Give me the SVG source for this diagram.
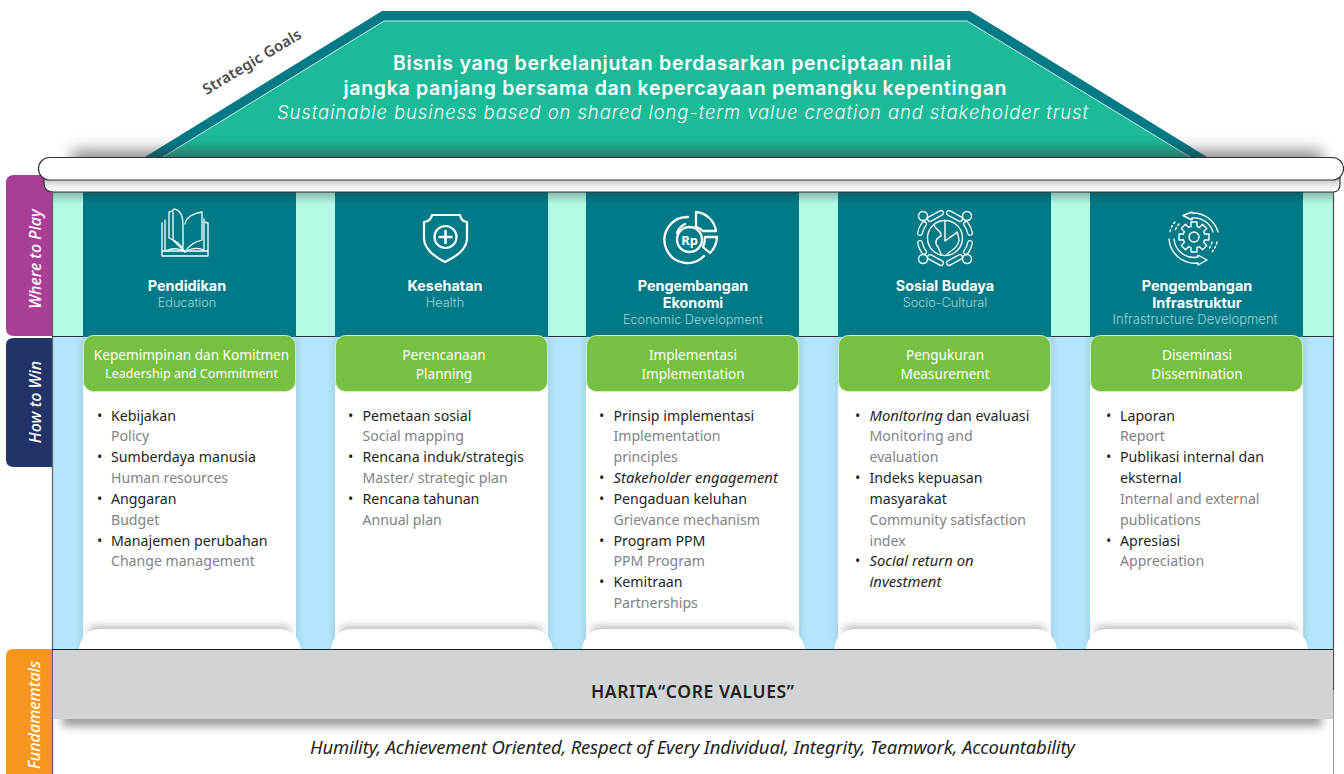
<svg xmlns="http://www.w3.org/2000/svg" xmlns:xlink="http://www.w3.org/1999/xlink" width="1344" height="774" viewBox="0 0 1344 774">
<style>
text{font-family:"Noto Sans","Liberation Sans",sans-serif}
.h{font-family:Inter,"Noto Sans",sans-serif}
.t{font-size:14.2px;fill:#231f20}
.g{font-size:14.1px;fill:#808285}
.it{font-style:italic;font-size:14.8px}
.hd{font-family:Inter,sans-serif;font-weight:700;font-size:14.4px;fill:#fff;text-anchor:middle}
.sub{font-family:Inter,sans-serif;font-weight:300;font-size:12.7px;fill:#a5d3d6;text-anchor:middle}
.gh{font-size:13.6px;fill:#fff;text-anchor:middle}
.tab{font-size:16px;font-style:italic;font-weight:500;fill:#fff;text-anchor:middle}
.ic{fill:none;stroke:#fff;stroke-width:1.5;stroke-linecap:round;stroke-linejoin:round}
.arm{fill:none;stroke:#fff;stroke-width:6;stroke-linecap:round}
.armin{fill:none;stroke:#007a87;stroke-width:3.400;stroke-linecap:round}
.teal{fill:#007a87}
.body{fill:#fff}
.base{fill:#fff}
.green{fill:#77c142;stroke:#d6ecc4;stroke-width:1}
.sh{fill:#2a2a3a;opacity:.4}
.side{fill:#2a2a3a;opacity:.1}
.beam{fill:#fff;stroke:#333;stroke-width:1.2}
</style>
<defs>
<filter id="b8" x="-20%" y="-300%" width="140%" height="700%"><feGaussianBlur stdDeviation="8"/></filter>
<filter id="b5" x="-20%" y="-300%" width="140%" height="700%"><feGaussianBlur stdDeviation="5"/></filter>
<filter id="b3" x="-20%" y="-20%" width="140%" height="140%"><feGaussianBlur stdDeviation="3"/></filter>
<linearGradient id="down" x1="0" y1="0" x2="0" y2="1"><stop offset="0" stop-color="#1a2a3a" stop-opacity=".32"/><stop offset="1" stop-color="#1a2a3a" stop-opacity="0"/></linearGradient>
<linearGradient id="low" x1="0" y1="0" x2="0" y2="1"><stop offset="0" stop-color="#aeaeb4"/><stop offset=".7" stop-color="#f2f2f3"/><stop offset="1" stop-color="#fff"/></linearGradient>
<clipPath id="aboveBeam"><rect x="0" y="0" width="1344" height="158"/></clipPath>
<clipPath id="belowGrey"><rect x="52" y="719" width="1292" height="55"/></clipPath>
<clipPath id="blue"><rect x="52" y="337" width="1281" height="313"/></clipPath>
<path id="tooth" d="M10.6-3L15-3 15 3 10.6 3A11 11 0 0 1 9.6 5.3"/>
</defs>

<rect width="1344" height="774" fill="#fff"/>

<g id="roof">
<path d="M145 157L382 11H970L1207 157Z" fill="#007a87"/>
<path d="M163 157L384 21H967L1190 157" fill="#1cba97" stroke="#e8f7f3" stroke-width=".9"/>
<text class="h" x="672" y="70" font-size="19.500" font-weight="600" fill="#fff" text-anchor="middle" textLength="558" lengthAdjust="spacing">Bisnis yang berkelanjutan berdasarkan penciptaan nilai</text>
<text class="h" x="675" y="95" font-size="19.500" font-weight="600" fill="#fff" text-anchor="middle" textLength="663" lengthAdjust="spacing">jangka panjang bersama dan kepercayaan pemangku kepentingan</text>
<text class="h" x="682.500" y="119" font-size="18.500" font-style="italic" font-weight="300" fill="#f2fbf8" text-anchor="middle" textLength="811" lengthAdjust="spacing">Sustainable business based on shared long-term value creation and stakeholder trust</text>
<text x="252" y="67" font-size="15" font-weight="600" fill="#4a4a4c" text-anchor="middle" textLength="112" transform="rotate(-31 252 62)">Strategic Goals</text>
<g clip-path="url(#aboveBeam)"><rect x="72" y="151" width="1250" height="24" fill="#30303a" opacity=".6" filter="url(#b8)"/></g>
</g>

<g id="frame">
<rect x="52" y="192" width="1281" height="145" fill="#b3fbe6"/>
<rect x="52" y="337" width="1281" height="313" fill="#b3e7fd"/>
</g>

<g id="side-shadows" clip-path="url(#blue)">
<rect class="side" x="80" y="337" width="219" height="313" filter="url(#b3)"/>
<rect class="side" x="332" y="337" width="219" height="313" filter="url(#b3)"/>
<rect class="side" x="583" y="337" width="219" height="313" filter="url(#b3)"/>
<rect class="side" x="835" y="337" width="219" height="313" filter="url(#b3)"/>
<rect class="side" x="1087" y="337" width="219" height="313" filter="url(#b3)"/>
</g>

<g id="tab-where"><path d="M52 175H14Q6 175 6 183V329Q6 336 14 336H52Z" fill="#a93e96"/><text class="tab" transform="translate(41 259) rotate(-90)">Where to Play</text></g>
<g id="tab-how"><path d="M52 338H14Q6 338 6 345V460Q6 467 14 467H52Z" fill="#213368"/><text class="tab" transform="translate(41 402) rotate(-90)">How to Win</text></g>
<g id="tab-fund"><path d="M52 649H14Q6 649 6 656V774H52Z" fill="#f9961e"/><text class="tab" transform="translate(40 715) rotate(-90)">Fundamemtals</text></g>

<g id="pillar-1"><rect class="teal" x="83" y="192" width="213" height="145"/><rect class="body" x="83" y="385" width="213" height="265"/><rect class="sh" x="90" y="627" width="199" height="10" filter="url(#b5)"/><path class="base" d="M79 650Q81 629 102 629H277Q298 629 301 650Z"/>
<rect class="green" x="83.500" y="335.500" width="212" height="56" rx="10"/>
<text class="hd" x="187" y="291">Pendidikan</text><text class="sub" x="187" y="307">Education</text>
<text class="gh" x="191.500" y="360">Kepemimpinan dan Komitmen</text><text class="gh" x="191.500" y="378" style="font-size:12.600px">Leadership and Commitment</text>
<g class="ic" style="stroke-width:1.300"><path d="M162 223V256H208V223L204 222M165 220V251C175 247 180 249 185 252C190 249 197 247 204 250V219M185 252C180 243 176 241 169 238V212C173 212 173 209 175 209C181 211 183 216 183 226V247M185 252C190 244 195 242 202 240V212C194 213 186 217 185 224"/><path d="M162 251H208M173 212V240L185 252"/></g>
<text class="t" x="97" y="421">•</text><text class="t" x="111" y="421">Kebijakan</text><text class="g" x="111" y="441">Policy</text>
<text class="t" x="97" y="462">•</text><text class="t" x="111" y="462">Sumberdaya manusia</text><text class="g" x="111" y="483">Human resources</text>
<text class="t" x="97" y="504">•</text><text class="t" x="111" y="504">Anggaran</text><text class="g" x="111" y="525">Budget</text>
<text class="t" x="97" y="546">•</text><text class="t" x="111" y="546">Manajemen perubahan</text><text class="g" x="111" y="566">Change management</text>
</g>

<g id="pillar-2"><rect class="teal" x="335" y="192" width="213" height="145"/><rect class="body" x="335" y="385" width="213" height="265"/><rect class="sh" x="342" y="627" width="199" height="10" filter="url(#b5)"/><path class="base" d="M331 650Q333 629 354 629H529Q550 629 553 650Z"/>
<rect class="green" x="335.500" y="335.500" width="212" height="56" rx="10"/>
<text class="hd" x="445" y="291">Kesehatan</text><text class="sub" x="445" y="307">Health</text>
<text class="gh" x="444" y="360">Perencanaan</text><text class="gh" x="444" y="379">Planning</text>
<g class="ic" style="stroke-width:2.200"><path d="M432 215H460Q461 221 467 222V238C467 250 455 257 445 262C435 257 424 250 424 238V222Q431 221 432 215Z"/><circle cx="445.500" cy="237" r="11"/><path d="M445.500 231V243M439.500 237H451.500" style="stroke-width:2.600"/></g>
<text class="t" x="348" y="421">•</text><text class="t" x="362.500" y="421">Pemetaan sosial</text><text class="g" x="362.500" y="441">Social mapping</text>
<text class="t" x="348" y="462">•</text><text class="t" x="362.500" y="462">Rencana induk/strategis</text><text class="g" x="362.500" y="483">Master/ strategic plan</text>
<text class="t" x="348" y="504">•</text><text class="t" x="362.500" y="504">Rencana tahunan</text><text class="g" x="362.500" y="525">Annual plan</text>
</g>

<g id="pillar-3"><rect class="teal" x="586" y="192" width="213" height="145"/><rect class="body" x="586" y="385" width="213" height="265"/><rect class="sh" x="593" y="627" width="199" height="10" filter="url(#b5)"/><path class="base" d="M582 650Q584 629 605 629H781Q802 629 805 650Z"/>
<rect class="green" x="586.500" y="335.500" width="212" height="56" rx="10"/>
<text class="hd" x="693" y="291">Pengembangan</text><text class="hd" x="693" y="308">Ekonomi</text><text class="sub" x="693" y="324">Economic Development</text>
<text class="gh" x="693" y="360">Implementasi</text><text class="gh" x="693" y="379">Implementation</text>
<g class="ic" style="stroke-width:2.300"><path d="M688 217A23 23 0 1 0 704 256"/><path d="M685 224A16 16 0 0 0 677 233"/><circle cx="689.500" cy="239.500" r="12.500"/><path d="M696 212A22 22 0 0 1 716 231H703Q700 228 696 227Z"/><path d="M705 237H717A24 24 0 0 1 710 253L703 247Q705 243 705 237Z"/></g>
<text x="689.500" y="244.500" font-size="13" font-weight="700" fill="#fff" text-anchor="middle">Rp</text>
<text class="t" x="599" y="421">•</text><text class="t" x="613.500" y="421">Prinsip implementasi</text><text class="g" x="613.500" y="441">Implementation</text><text class="g" x="613.500" y="462">principles</text>
<text class="t" x="599" y="483">•</text><text class="t it" x="613.500" y="483">Stakeholder engagement</text>
<text class="t" x="599" y="504">•</text><text class="t" x="613.500" y="504">Pengaduan keluhan</text><text class="g" x="613.500" y="525">Grievance mechanism</text>
<text class="t" x="599" y="546">•</text><text class="t" x="613.500" y="546">Program PPM</text><text class="g" x="613.500" y="566">PPM Program</text>
<text class="t" x="599" y="587">•</text><text class="t" x="613.500" y="587">Kemitraan</text><text class="g" x="613.500" y="608">Partnerships</text>
</g>

<g id="pillar-4"><rect class="teal" x="838" y="192" width="213" height="145"/><rect class="body" x="838" y="385" width="213" height="265"/><rect class="sh" x="845" y="627" width="199" height="10" filter="url(#b5)"/><path class="base" d="M834 650Q836 629 857 629H1033Q1054 629 1057 650Z"/>
<rect class="green" x="838.500" y="335.500" width="212" height="56" rx="10"/>
<text class="hd" x="945" y="291">Sosial Budaya</text><text class="sub" x="945" y="307">Socio-Cultural</text>
<text class="gh" x="945" y="360">Pengukuran</text><text class="gh" x="945" y="379">Measurement</text>
<g id="icon-social">
<path class="arm" d="M930 219L941 213M924 224Q921 228 920 233M960 219L949 213M966 224Q969 228 970 233M930 257L941 263M924 252Q921 248 920 243M960 257L949 263M966 252Q969 248 970 243"/>
<path class="armin" d="M930 219L941 213M924 224Q921 228 920 233M960 219L949 213M966 224Q969 228 970 233M930 257L941 263M924 252Q921 248 920 243M960 257L949 263M966 252Q969 248 970 243"/>
<g class="ic" style="stroke-width:1.400"><circle cx="923" cy="216" r="4.500"/><circle cx="967" cy="216" r="4.500"/><circle cx="923" cy="259" r="4.500"/><circle cx="967" cy="259" r="4.500"/><circle cx="945" cy="238" r="17.500"/><path d="M945 221V241M934 225C936 231 942 230 941 236C936 238 934 243 938 247L941 254M945 241C949 238 954 235 957 232C959 238 961 242 955 248L947 254"/></g>
</g>
<text class="t" x="855" y="421">•</text><text class="t" x="869.500" y="421"><tspan class="it">Monitoring</tspan> dan evaluasi</text><text class="g" x="869.500" y="441">Monitoring and</text><text class="g" x="869.500" y="462">evaluation</text>
<text class="t" x="855" y="483">•</text><text class="t" x="869.500" y="483">Indeks kepuasan</text><text class="t" x="869.500" y="504">masyarakat</text><text class="g" x="869.500" y="525">Community satisfaction</text><text class="g" x="869.500" y="546">index</text>
<text class="t" x="855" y="566">•</text><text class="t it" x="869.500" y="566">Social return on</text><text class="t it" x="869.500" y="587">investment</text>
</g>

<g id="pillar-5"><rect class="teal" x="1090" y="192" width="213" height="145"/><rect class="body" x="1090" y="385" width="213" height="265"/><rect class="sh" x="1097" y="627" width="199" height="10" filter="url(#b5)"/><path class="base" d="M1086 650Q1088 629 1109 629H1285Q1306 629 1308 650Z"/>
<rect class="green" x="1090.500" y="335.500" width="212" height="56" rx="10"/>
<text class="hd" x="1197" y="291">Pengembangan</text><text class="hd" x="1197" y="308">Infrastruktur</text><text class="sub" x="1195" y="324" style="font-size:13px">Infrastructure Development</text>
<text class="gh" x="1197" y="360">Diseminasi</text><text class="gh" x="1197" y="379">Dissemination</text>
<g class="ic" style="stroke-width:1.400"><g transform="translate(1194 237)"><use href="#tooth"/><use href="#tooth" transform="rotate(45)"/><use href="#tooth" transform="rotate(90)"/><use href="#tooth" transform="rotate(135)"/><use href="#tooth" transform="rotate(180)"/><use href="#tooth" transform="rotate(225)"/><use href="#tooth" transform="rotate(270)"/><use href="#tooth" transform="rotate(315)"/><circle r="5"/></g>
<path d="M1192 212L1183 215.500 1192 220V218A20 20 0 0 1 1213 232M1192 212V213A26 26 0 0 1 1218 232"/>
<path d="M1169 239A26 26 0 0 0 1198 263V265L1207 260 1198 255V257A20 20 0 0 1 1174 239"/>
<path d="M1175 222A20 20 0 0 0 1170 232M1179 224A18 18 0 0 0 1175 231M1217 242A24 24 0 0 1 1212 252M1212 242A20 20 0 0 1 1208 250" stroke-dasharray="2 2.500"/></g>
<text class="t" x="1106" y="421">•</text><text class="t" x="1120" y="421">Laporan</text><text class="g" x="1120" y="441">Report</text>
<text class="t" x="1106" y="462">•</text><text class="t" x="1120" y="462">Publikasi internal dan</text><text class="t" x="1120" y="483">eksternal</text><text class="g" x="1120" y="504">Internal and external</text><text class="g" x="1120" y="525">publications</text>
<text class="t" x="1106" y="546">•</text><text class="t" x="1120" y="546">Apresiasi</text><text class="g" x="1120" y="566">Appreciation</text>
</g>

<g id="top-shade"><rect x="53" y="192" width="1280" height="12" fill="url(#down)"/></g>

<g id="beam">
<path class="beam" d="M44 175V183Q44 192 53 192H1333Q1340 192 1340 184V175Z" style="fill:url(#low)"/>
<rect class="beam" x="38.500" y="157.500" width="1305" height="22.500" rx="11"/>
</g>

<g id="lines" fill="none">
<path d="M52.500 192V774" stroke="#666" stroke-width="1.300"/>
<path d="M1333.500 192V690" stroke="#555" stroke-width="1.300"/>
<path d="M1333.500 690V774" stroke="#999" stroke-width="1"/>
<path d="M52 336.500H83M296 336.500H335M548 336.500H586M799 336.500H838M1051 336.500H1090M1303 336.500H1333" stroke="#333" stroke-width="1"/>
</g>

<g id="core-values">
<g clip-path="url(#belowGrey)"><rect x="62" y="712" width="1260" height="14" fill="#30303a" opacity=".5" filter="url(#b5)"/></g>
<rect x="53" y="650" width="1280" height="69" fill="#d1d3d4"/>
<path d="M52 649.500H1333" stroke="#222" stroke-width="1.200"/>
<text x="692.500" y="698" font-size="17.500" font-weight="600" fill="#231f20" text-anchor="middle" textLength="203" lengthAdjust="spacing">HARITA“CORE VALUES”</text>
<text x="692.500" y="754" font-size="18.500" font-style="italic" fill="#231f20" text-anchor="middle" textLength="765" lengthAdjust="spacing">Humility, Achievement Oriented, Respect of Every Individual, Integrity, Teamwork, Accountability</text>
</g>
</svg>
